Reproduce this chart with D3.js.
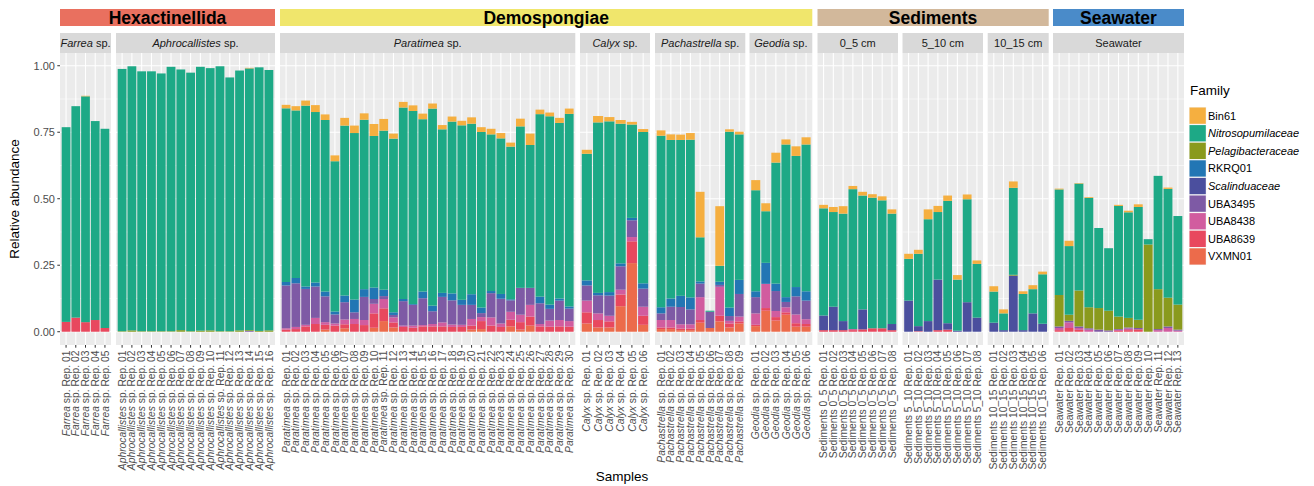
<!DOCTYPE html>
<html><head><meta charset="utf-8">
<script src="https://cdn.jsdelivr.net/npm/d3@7"></script>
<style>body{margin:0;background:#fff} svg text{font-family:"Liberation Sans",Arial,Helvetica,sans-serif}</style>
</head><body><svg id="c" width="1314" height="486"></svg>
<script>
// ---------------- DATA ----------------
const families = ["Bin61","Nitrosopumilaceae","Pelagibacteraceae","RKRQ01","Scalinduaceae","UBA3495","UBA8438","UBA8639","VXMN01"];
const italicFamilies = ["Nitrosopumilaceae","Pelagibacteraceae","Scalinduaceae"];
const familyColors = ["#F5AF40","#1DA986","#8A9A1D","#2276B4","#4B4F9E","#7E5AA5","#D15C9F","#E8485E","#EC6B4B"];

const groups = ["Hexactinellida","Demospongiae","Sediments","Seawater"];
const groupColors = ["#E9705F","#F0E66C","#D2B89B","#4A8BC9"];

const panelNames = ["Farrea sp.","Aphrocallistes sp.","Paratimea sp.","Calyx sp.","Pachastrella sp.","Geodia sp.","0_5 cm","5_10 cm","10_15 cm","Seawater"];
const panelItalic = ["Farrea","Aphrocallistes","Paratimea","Calyx","Pachastrella","Geodia","","","",""];
const panelGroup = [0,0,1,1,1,1,2,2,2,3];
const labelPrefix = ["Farrea sp.","Aphrocallistes sp.","Paratimea sp.","Calyx sp.","Pachastrella sp.","Geodia sp.","Sediments 0_5","Sediments 5_10","Sediments 10_15","Seawater"];
const repCounts = [5,16,30,6,9,6,8,8,6,13];
const yTicks = [0,0.25,0.5,0.75,1];

// values per panel (Farrea, Aphrocallistes, Paratimea, Calyx, Pachastrella, Geodia, 0_5, 5_10, 10_15, Seawater)
const bin61 = [
 [0,0,0.002,0,0],
 [0,0,0,0,0,0,0,0,0,0,0,0,0,0.002,0,0],
 [0.013,0.016,0.019,0.026,0.021,0.022,0.029,0.028,0.024,0.045,0.044,0.019,0.021,0.021,0.021,0.019,0.016,0.019,0.017,0.024,0.018,0.021,0.020,0.015,0.029,0.043,0.017,0.014,0.019,0.020],
 [0.015,0.024,0.016,0.014,0.010,0.011],
 [0.020,0.021,0.020,0.025,0.171,0,0.224,0.009,0.010],
 [0.038,0.030,0.037,0.019,0.036,0.027],
 [0.013,0.019,0.028,0.012,0.014,0.013,0.015,0.016],
 [0.019,0.015,0.037,0.023,0.020,0.017,0.018,0.013],
 [0.020,0.015,0.024,0.010,0.015,0.010],
 [0.003,0.020,0.002,0.003,0,0,0.004,0.006,0.010,0,0,0.005,0]
];
const nitrosopumilaceae = [
 [0.732,0.795,0.849,0.748,0.749],
 [0.986,0.993,0.977,0.977,0.969,0.994,0.980,0.972,0.992,0.986,0.996,0.954,0.977,0.984,0.991,0.979],
 [0.653,0.630,0.680,0.641,0.645,0.565,0.639,0.626,0.637,0.570,0.598,0.653,0.720,0.726,0.648,0.741,0.615,0.646,0.656,0.641,0.660,0.589,0.585,0.574,0.607,0.537,0.686,0.708,0.660,0.724],
 [0.476,0.641,0.642,0.525,0.351,0.569],
 [0.645,0.596,0.586,0.593,0.166,0.004,0.060,0.661,0.547],
 [0.380,0.194,0.455,0.574,0.493,0.552],
 [0.403,0.356,0.404,0.526,0.428,0.491,0.481,0.415],
 [0.157,0.272,0.383,0.254,0.460,0.192,0.387,0.202],
 [0.117,0.063,0.327,0.136,0.091,0.186],
 [0.397,0.258,0.402,0.411,0.301,0.235,0.416,0.397,0.424,0.020,0.426,0.409,0.333]
];
const pelagibacteraceae = [
 [0,0,0,0,0],
 [0.002,0.005,0.002,0.002,0.002,0.002,0.006,0.002,0.004,0.005,0.002,0.002,0.005,0.003,0.003,0.005],
 [0,0,0,0,0,0,0,0,0,0,0,0,0,0,0,0,0,0,0,0,0,0,0,0,0,0,0,0,0,0],
 [0,0,0,0,0,0],
 [0,0,0,0,0,0,0,0,0],
 [0,0,0,0,0,0],
 [0,0,0,0,0,0,0,0],
 [0,0,0,0,0,0,0,0],
 [0,0,0.003,0,0,0],
 [0.118,0.023,0.135,0.079,0.081,0.074,0.047,0.036,0.031,0.328,0.150,0.108,0.094]
];
const rkrq01 = [
 [0,0,0,0,0],
 [0,0,0,0,0,0,0,0,0,0,0,0,0,0,0,0],
 [0.013,0.020,0.009,0.015,0.018,0.011,0.025,0.048,0.029,0.043,0.024,0.010,0.008,0.003,0.025,0.021,0.015,0.026,0.019,0.040,0.021,0.008,0.018,0.004,0,0,0.025,0.016,0.008,0.008],
 [0.019,0.009,0.013,0.011,0.009,0.020],
 [0.023,0.031,0.042,0.045,0.008,0,0.012,0.032,0.053],
 [0.022,0.079,0.028,0.018,0.035,0.035],
 [0,0,0,0,0,0,0,0],
 [0,0,0,0,0,0,0,0],
 [0,0,0,0,0,0],
 [0,0,0,0,0,0,0,0,0,0,0,0,0]
];
const scalinduaceae = [
 [0,0,0,0,0],
 [0,0,0,0,0,0,0,0,0,0,0,0,0,0,0,0],
 [0,0,0,0,0,0,0,0,0,0,0,0,0,0,0,0,0,0,0,0,0,0,0,0,0,0,0,0,0,0],
 [0,0,0,0,0,0],
 [0,0,0,0,0,0,0,0,0],
 [0,0,0,0,0,0],
 [0.055,0.088,0.034,0,0.075,0,0,0.023],
 [0.117,0.019,0.040,0.190,0.024,0.004,0.111,0.053],
 [0.034,0.006,0.211,0.006,0.069,0.030],
 [0,0,0,0,0,0,0,0,0,0,0,0,0]
];
const uba3495 = [
 [0,0,0,0,0],
 [0,0,0,0,0,0,0,0,0,0,0,0,0,0.003,0,0],
 [0.161,0.164,0.135,0.118,0.097,0.034,0.065,0.025,0.087,0.018,0.011,0.009,0.092,0.078,0.101,0.048,0.096,0.091,0.075,0.053,0.015,0.091,0.093,0.043,0.101,0.064,0.078,0.044,0.073,0.047],
 [0.057,0.068,0.076,0.088,0.063,0.068],
 [0.025,0.050,0.065,0.056,0.051,0.061,0.007,0.018,0.085],
 [0.061,0,0.075,0.020,0.068,0.070],
 [0,0,0,0,0,0,0,0],
 [0,0,0,0,0,0,0,0],
 [0,0,0,0,0,0],
 [0.006,0.006,0.006,0.005,0.008,0.005,0.003,0.004,0.005,0,0.004,0.006,0.004]
];
const uba8438 = [
 [0,0,0,0,0],
 [0,0,0,0,0,0,0,0,0,0,0,0,0,0,0,0],
 [0.005,0.008,0.006,0.023,0.010,0.008,0.018,0.019,0.019,0.036,0.035,0.019,0.005,0.008,0.005,0.009,0.015,0.009,0.008,0.025,0.015,0.031,0.013,0.030,0.028,0.044,0.009,0.023,0.024,0.021],
 [0.044,0.025,0.021,0.018,0.016,0.034],
 [0.028,0.028,0.016,0.016,0.086,0,0.109,0.010,0.018],
 [0.043,0.091,0.023,0.019,0.033,0.018],
 [0,0,0,0.004,0,0,0,0],
 [0,0,0,0,0,0,0,0],
 [0,0,0,0,0,0],
 [0.008,0.021,0.007,0.008,0,0,0.004,0.006,0,0,0.006,0.014,0.004]
];
const uba8639 = [
 [0.037,0.053,0.036,0.044,0.014],
 [0,0,0,0,0,0,0,0,0,0,0,0,0,0,0,0],
 [0.008,0.010,0.020,0.029,0.018,0.023,0.015,0.029,0.025,0.054,0.048,0.019,0.018,0.015,0.020,0.020,0.020,0.018,0.018,0.015,0.030,0.023,0.018,0.025,0.028,0.034,0.020,0.019,0.020,0.019],
 [0.042,0.028,0.023,0.044,0.082,0.034],
 [0.006,0.006,0.006,0.006,0.010,0,0.021,0.015,0.008],
 [0.005,0.010,0.013,0.009,0.013,0.010],
 [0.006,0.006,0.006,0.006,0.009,0.013,0.013,0.006],
 [0,0.002,0,0.006,0.008,0,0,0],
 [0,0,0,0,0,0],
 [0.006,0.014,0.007,0,0,0,0.003,0.006,0.009,0,0,0,0]
];
const vxmn01 = [
 [0,0,0,0,0],
 [0,0,0,0,0,0,0,0,0,0,0,0,0,0,0,0],
 [0,0,0,0,0.008,0,0.013,0,0,0.015,0.040,0.016,0,0,0,0,0,0,0,0.008,0.010,0,0,0.020,0.008,0.023,0,0,0,0],
 [0.031,0.016,0.016,0.096,0.258,0.026],
 [0.010,0.010,0.006,0.006,0.034,0.014,0.039,0.016,0.031],
 [0.021,0.079,0.042,0.064,0.019,0.019],
 [0,0,0,0,0,0,0,0],
 [0,0,0,0,0,0,0,0],
 [0,0,0,0,0,0],
 [0,0,0,0,0,0,0,0,0,0,0,0,0]
];
const seriesByFamily = [bin61,nitrosopumilaceae,pelagibacteraceae,rkrq01,scalinduaceae,uba3495,uba8438,uba8639,vxmn01];

// ---------------- LAYOUT ----------------
const svg = d3.select("#c");
const panelEdges = [[60,111],[116,275],[280,575.3],[580,650],[655,745.3],[749.5,812.3],[817.5,898],[902.5,983],[987.7,1048.7],[1053,1184]];
const plotT = 53, plotB = 345, inset = 1.2;
const plotL = panelEdges[0][0], plotR = panelEdges[panelEdges.length - 1][1];
const stripT = 33, stripB = 53, headT = 9, headB = 26;
const textGray = "#4D4D4D";

const panels = repCounts.map((n, p) => {
  const [x0, x1] = panelEdges[p];
  const samples = d3.range(n).map(i => labelPrefix[p] + " Rep. " + String(i + 1).padStart(2, "0"));
  const rows = samples.map((s, i) => {
    const row = {sample: s};
    families.forEach((f, k) => row[f] = seriesByFamily[k][p][i]);
    return row;
  });
  const x = d3.scaleBand().domain(samples).range([x0 + inset, x1 - inset]).paddingInner(0.1).paddingOuter(0.05);
  return {p, n, x0, x1, samples, rows, x};
});

const allTotals = panels.flatMap(pn => pn.rows.map(r => d3.sum(families, f => r[f])));
const ymax = d3.max(allTotals);
const y = d3.scaleLinear().domain([-0.05 * ymax, 1.05 * ymax]).range([plotB, plotT]);
const color = d3.scaleOrdinal().domain(families).range(familyColors);
const stack = d3.stack().keys(families.slice().reverse());
const minorTicks = d3.range(yTicks.length - 1).map(i => (yTicks[i] + yTicks[i + 1]) / 2);

panels.forEach(pn => {
  const g = svg.append("g");
  g.append("rect").attr("x", pn.x0).attr("y", plotT).attr("width", pn.x1 - pn.x0).attr("height", plotB - plotT).attr("fill", "#EBEBEB");
  g.selectAll(".mn").data(minorTicks).join("line")
    .attr("x1", pn.x0).attr("x2", pn.x1).attr("y1", d => y(d)).attr("y2", d => y(d))
    .attr("stroke", "#fff").attr("stroke-width", 0.55);
  g.selectAll(".mj").data(yTicks).join("line")
    .attr("x1", pn.x0).attr("x2", pn.x1).attr("y1", d => y(d)).attr("y2", d => y(d))
    .attr("stroke", "#fff").attr("stroke-width", 1.07);
  g.selectAll(".vx").data(pn.samples).join("line")
    .attr("x1", d => pn.x(d) + pn.x.bandwidth() / 2).attr("x2", d => pn.x(d) + pn.x.bandwidth() / 2)
    .attr("y1", plotT).attr("y2", plotB).attr("stroke", "#fff").attr("stroke-width", 1.07);

  const layers = stack(pn.rows);
  g.selectAll(".layer").data(layers).join("g").attr("fill", d => color(d.key))
    .selectAll("rect").data(d => d).join("rect")
    .attr("x", d => pn.x(d.data.sample)).attr("width", pn.x.bandwidth())
    .attr("y", d => y(d[1])).attr("height", d => Math.max(0, y(d[0]) - y(d[1])));

  // facet strip
  g.append("rect").attr("x", pn.x0).attr("y", stripT).attr("width", pn.x1 - pn.x0).attr("height", stripB - stripT).attr("fill", "#D9D9D9");
  const st = g.append("text").attr("x", (pn.x0 + pn.x1) / 2).attr("y", (stripT + stripB) / 2).attr("dy", "0.35em")
    .attr("text-anchor", "middle").attr("font-size", 11).attr("fill", "#1A1A1A");
  const it = panelItalic[pn.p];
  if (it) {
    st.append("tspan").attr("font-style", "italic").text(it);
    st.append("tspan").text(panelNames[pn.p].slice(it.length));
  } else st.text(panelNames[pn.p]);

  // x axis ticks + labels
  const ax = g.append("g");
  pn.samples.forEach(s => {
    const cx = pn.x(s) + pn.x.bandwidth() / 2;
    ax.append("line").attr("x1", cx).attr("x2", cx).attr("y1", plotB).attr("y2", plotB + 2.7).attr("stroke", "#333").attr("stroke-width", 1);
    const t = ax.append("text").attr("transform", `translate(${cx},${plotB + 5.5}) rotate(-90)`)
      .attr("text-anchor", "end").attr("dy", "0.35em").attr("font-size", 10.3).attr("fill", textGray);
    if (it) {
      t.append("tspan").attr("font-style", "italic").text(it);
      t.append("tspan").text(s.slice(it.length));
    } else t.text(s);
  });
});

// group header strips
groups.forEach((gname, gi) => {
  const ps = panels.filter(pn => panelGroup[pn.p] === gi);
  const x0 = d3.min(ps, d => d.x0), x1 = d3.max(ps, d => d.x1);
  svg.append("rect").attr("x", x0).attr("y", headT).attr("width", x1 - x0).attr("height", headB - headT).attr("fill", groupColors[gi]);
  svg.append("text").attr("x", (x0 + x1) / 2).attr("y", (headT + headB) / 2).attr("dy", "0.36em")
    .attr("text-anchor", "middle").attr("font-size", 17.5).attr("font-weight", "bold").attr("fill", "#000").text(gname);
});

// y axis
const ya = svg.append("g");
yTicks.forEach(v => {
  ya.append("line").attr("x1", plotL - 2.7).attr("x2", plotL).attr("y1", y(v)).attr("y2", y(v)).attr("stroke", "#333");
  ya.append("text").attr("x", plotL - 5).attr("y", y(v)).attr("dy", "0.35em").attr("text-anchor", "end")
    .attr("font-size", 11).attr("fill", textGray).text(d3.format(".2f")(v));
});
svg.append("text").attr("transform", `translate(14,${(plotT + plotB) / 2}) rotate(-90)`).attr("dy", "0.35em")
  .attr("text-anchor", "middle").attr("font-size", 13.5).attr("fill", "#000").text("Relative abundance");
svg.append("text").attr("x", (plotL + plotR) / 2).attr("y", 481).attr("text-anchor", "middle")
  .attr("font-size", 13.5).attr("fill", "#000").text("Samples");

// legend
const lg = svg.append("g").attr("transform", "translate(1189,0)");
lg.append("text").attr("x", 1).attr("y", 95).attr("font-size", 13.5).attr("fill", "#000").text("Family");
families.forEach((f, i) => {
  const ky = 107 + i * 17.6;
  lg.append("rect").attr("x", 0).attr("y", ky).attr("width", 17.3).attr("height", 17.3).attr("fill", "#F2F2F2");
  lg.append("rect").attr("x", 0.5).attr("y", ky + 0.5).attr("width", 16.3).attr("height", 16.3).attr("fill", color(f));
  lg.append("text").attr("x", 19).attr("y", ky + 8.65).attr("dy", "0.35em").attr("font-size", 11)
    .attr("font-style", italicFamilies.includes(f) ? "italic" : "normal").attr("fill", "#000").text(f);
});
</script></body></html>
